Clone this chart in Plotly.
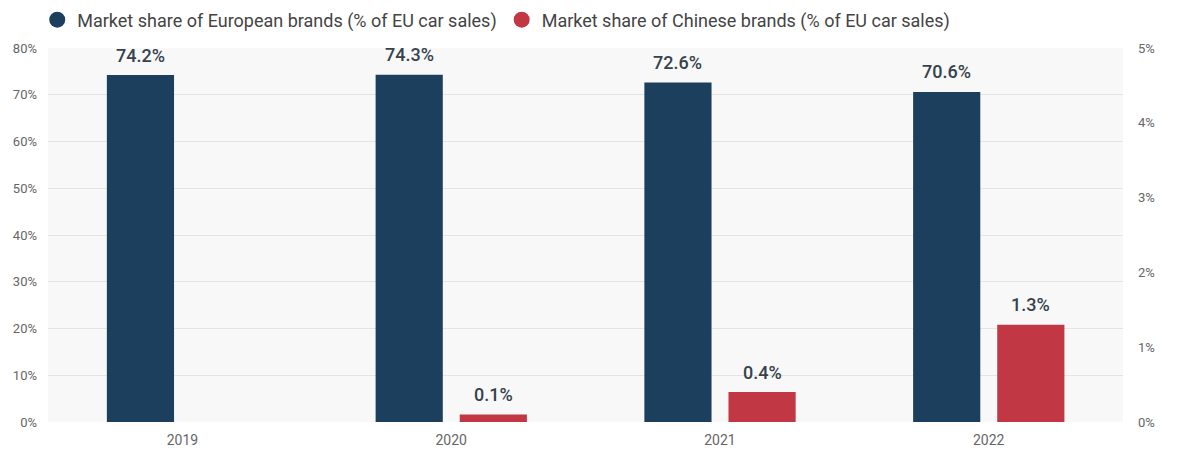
import plotly.graph_objects as go

years = ["2019", "2020", "2021", "2022"]
european_share = [74.2, 74.3, 72.6, 70.6]
chinese_share = [None, 0.1, 0.4, 1.3]

left_ticks = [0, 10, 20, 30, 40, 50, 60, 70, 80]
right_ticks = [0, 1, 2, 3, 4, 5]

EURO_COLOR = "#1d3f5e"
CHINA_COLOR = "#c13744"
LABEL_COLOR = "#36424c"
FONT = "Roboto, sans-serif"

BAR_W = 0.25
EURO_OFF = -0.281
CHINA_OFF = 0.032

MARGIN_T, MARGIN_B = 48, 36
PLOT_H = 458 - MARGIN_T - MARGIN_B

fig = go.Figure()

fig.add_trace(go.Bar(
    x=years, y=european_share, name="euro", showlegend=False,
    marker=dict(color=EURO_COLOR, line=dict(width=0)),
    width=BAR_W, offset=EURO_OFF, yaxis="y",
))
fig.add_trace(go.Bar(
    x=years, y=chinese_share, name="china", showlegend=False,
    marker=dict(color=CHINA_COLOR, line=dict(width=0)),
    width=BAR_W, offset=CHINA_OFF, yaxis="y2",
))

# legend entries drawn with round markers
fig.add_trace(go.Scatter(
    x=[None], y=[None], mode="markers",
    name="Market share of European brands (% of EU car sales)",
    marker=dict(symbol="circle", size=17, color=EURO_COLOR),
))
fig.add_trace(go.Scatter(
    x=[None], y=[None], mode="markers",
    name="Market share of Chinese brands (% of EU car sales)",
    marker=dict(symbol="circle", size=17, color=CHINA_COLOR),
))

# value labels above each bar
annotations = []
for i, v in enumerate(european_share):
    annotations.append(dict(
        x=i + EURO_OFF + BAR_W / 2, y=v, xref="x", yref="y",
        text=f"{v:.1f}%", showarrow=False, yanchor="middle", yshift=20,
        font=dict(family=FONT, size=18, color=LABEL_COLOR, weight=500),
    ))
for i, v in enumerate(chinese_share):
    if v is None:
        continue
    annotations.append(dict(
        x=i + CHINA_OFF + BAR_W / 2, y=v, xref="x", yref="y2",
        text=f"{v:.1f}%", showarrow=False, yanchor="middle", yshift=20,
        font=dict(family=FONT, size=18, color=LABEL_COLOR, weight=500),
    ))

fig.update_layout(
    width=1180, height=458,
    margin=dict(l=48, r=57, t=MARGIN_T, b=MARGIN_B, autoexpand=False),
    paper_bgcolor="white",
    plot_bgcolor="#f8f8f8",
    font=dict(family=FONT, color="#666666"),
    barmode="overlay",
    showlegend=True,
    annotations=annotations,
    legend=dict(
        orientation="h", x=-0.01, xanchor="left",
        y=1 + (MARGIN_T - 20) / PLOT_H, yanchor="middle",
        font=dict(family=FONT, size=18, color="#444444"),
        itemsizing="trace", bgcolor="rgba(0,0,0,0)",
    ),
    xaxis=dict(
        type="category", showgrid=False, zeroline=False, showline=False,
        ticks="", tickfont=dict(family=FONT, size=14, color="#666666"),
        range=[-0.5, 3.5], ticklabelstandoff=8,
    ),
    yaxis=dict(
        range=[0, 80], tickvals=left_ticks, ticktext=[f"{t}%" for t in left_ticks],
        showgrid=True, gridcolor="#e4e4e4", gridwidth=1, zeroline=False,
        showline=False, ticks="",
        tickfont=dict(family=FONT, size=13, color="#666666"),
        ticklabelstandoff=10,
    ),
    yaxis2=dict(
        range=[0, 5], tickvals=right_ticks, ticktext=[f"{t}%" for t in right_ticks],
        overlaying="y", side="right", showgrid=False, zeroline=False,
        showline=False, ticks="",
        tickfont=dict(family=FONT, size=13, color="#666666"),
        ticklabelstandoff=14,
    ),
)

fig.write_html("out.html")
